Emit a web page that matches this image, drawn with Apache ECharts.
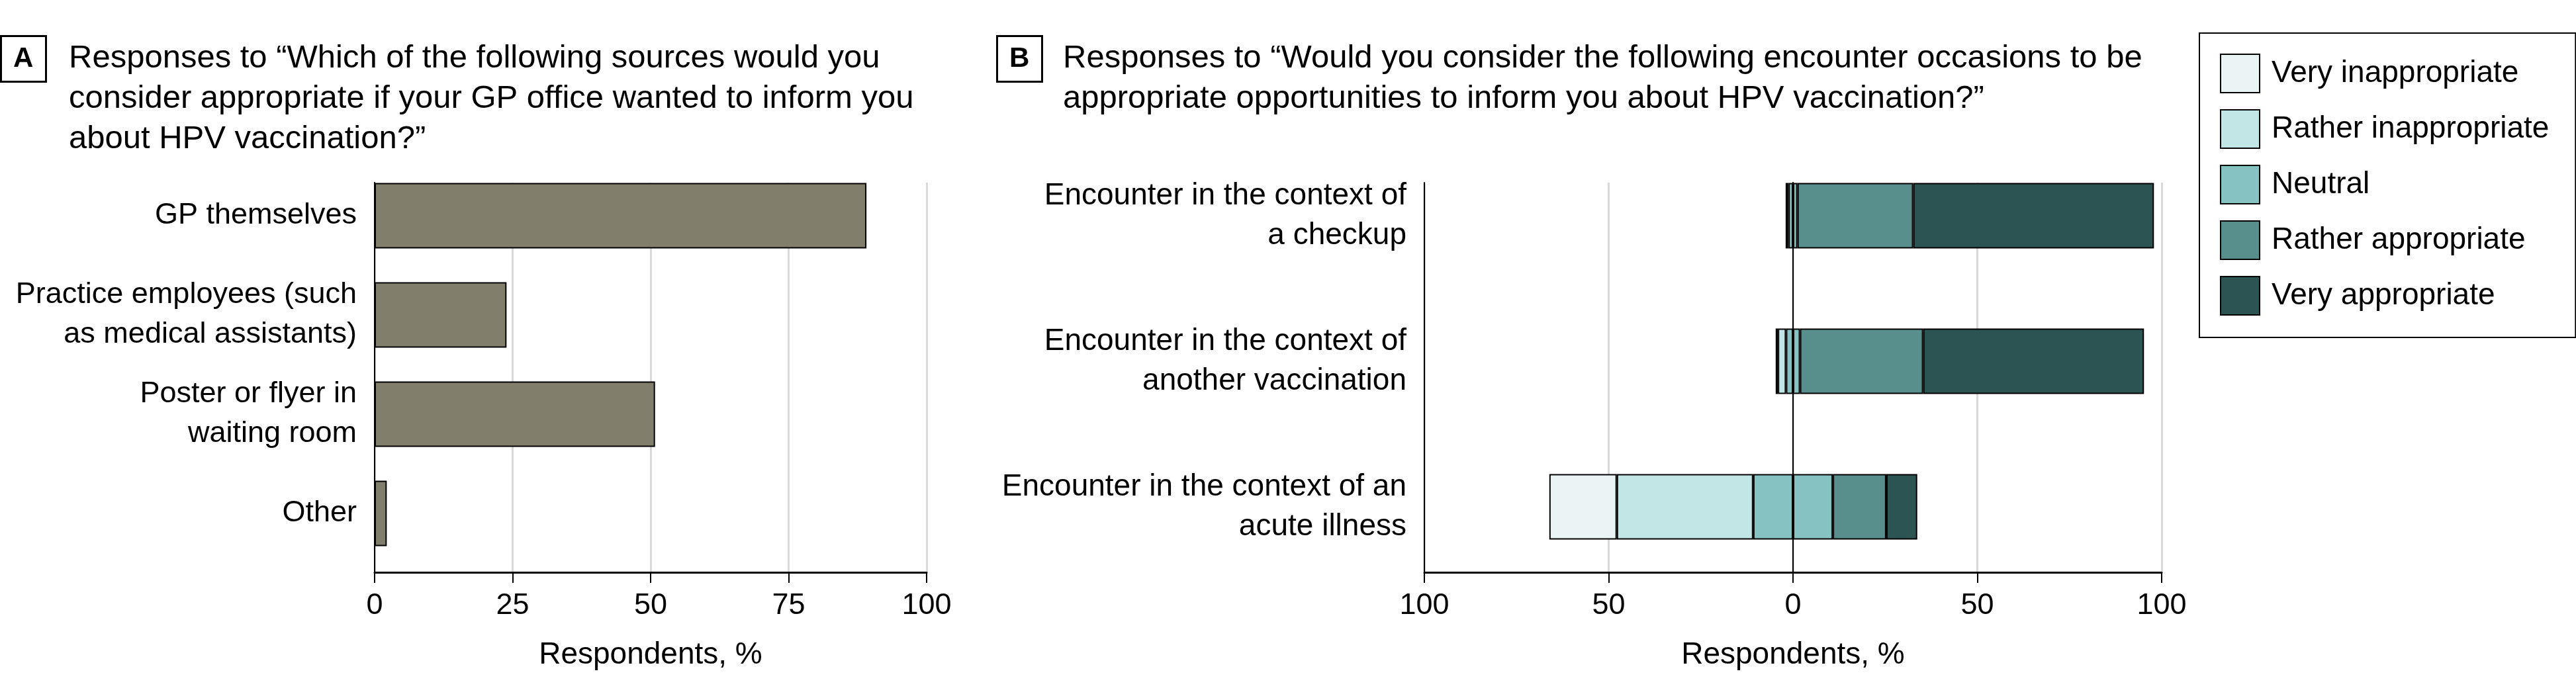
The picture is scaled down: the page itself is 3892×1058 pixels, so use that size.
<!DOCTYPE html>
<html>
<head>
    <meta charset="utf-8">
    <title>HPV vaccination information</title>
    <script src="https://cdn.jsdelivr.net/npm/echarts@6/dist/echarts.min.js"></script>
    <style>
        html, body { margin: 0; padding: 0; background: #fff; }
        #chart { width: 3892px; height: 1058px; }
    </style>
</head>
<body>
<div id="chart"></div>
<script>
    // panel A - information sources
    var sourceLabels = [
        'GP themselves',
        'Practice employees (such\nas medical assistants)',
        'Poster or flyer in\nwaiting room',
        'Other'
    ];
    var sourceValues = [89.1, 23.9, 50.8, 2.2];

    // panel B - encounter occasions
    var occasionLabels = [
        'Encounter in the context of\na checkup',
        'Encounter in the context of\nanother vaccination',
        'Encounter in the context of an\nacute illness'
    ];
    var veryInappropriate = [0.4, 0.6, 18.3];
    var ratherInappropriate = [0.4, 2.2, 37.0];
    var neutral = [2.4, 3.8, 21.6];
    var ratherAppropriate = [31.4, 33.4, 14.5];
    var veryAppropriate = [65.3, 59.9, 8.4];

    var levelNames = ['Very inappropriate', 'Rather inappropriate', 'Neutral', 'Rather appropriate', 'Very appropriate'];
    var levelColors = ['#eaf4f4', '#c1e6e5', '#86c2c1', '#588e8b', '#2b5453'];

    var FONT = 'Liberation Sans';
    var W = 3892;

    var chart = echarts.init(document.getElementById('chart'));

    function neg(arr) { return arr.map(function (v) { return -v; }); }
    function half(arr, sign) { return arr.map(function (v) { return sign * v / 2; }); }

    function axesX(gridIndex, min, max, interval, fmt) {
        return {
            gridIndex: gridIndex, type: 'value', min: min, max: max, interval: interval,
            axisLine: { show: true, onZero: false, lineStyle: { color: '#000', width: 3 } },
            axisTick: { show: true, length: 16, lineStyle: { color: '#000', width: 2 } },
            axisLabel: { fontFamily: FONT, fontSize: 45, color: '#000', margin: 28, formatter: fmt },
            splitLine: { show: true, lineStyle: { color: '#d9d9d9', width: 3 } },
            name: 'Respondents, %', nameLocation: 'middle', nameGap: 102,
            nameTextStyle: { fontFamily: FONT, fontSize: 46, color: '#000' }
        };
    }

    function hiddenX(gridIndex, min, max) {
        return { gridIndex: gridIndex, type: 'value', min: min, max: max, show: false, splitLine: { show: false } };
    }

    function labelY(gridIndex, data, size) {
        return {
            gridIndex: gridIndex, type: 'category', inverse: true, data: data,
            axisLine: { show: false }, axisTick: { show: false },
            axisLabel: { fontFamily: FONT, fontSize: size, color: '#000', margin: 27, lineHeight: 60, align: 'right' }
        };
    }

    function lineY(gridIndex, data, onZero) {
        return {
            gridIndex: gridIndex, type: 'category', data: data, z: 1, position: 'left',
            axisLine: { show: true, onZero: onZero, lineStyle: { color: '#000', width: 2 } },
            axisTick: { show: false }, axisLabel: { show: false }, splitLine: { show: false }
        };
    }

    var barBorder = { borderColor: '#000', borderWidth: 2 };

    function stackSeries(name, data, colorIdx) {
        return {
            name: name, type: 'bar', stack: 'occasion', xAxisIndex: 2, yAxisIndex: 2,
            barWidth: 99, data: data, z: 2,
            itemStyle: Object.assign({ color: levelColors[colorIdx] }, barBorder)
        };
    }

    var titleText = { fontFamily: FONT, fontSize: 49, color: '#000', lineHeight: 61, fontWeight: 'normal' };
    var letterText = { fontFamily: FONT, fontSize: 42, color: '#000', lineHeight: 42, fontWeight: 'bold' };

    var option = {
        backgroundColor: '#fff',
        animation: false,
        title: [
            { text: 'A', left: 1, top: 54, padding: [14, 19, 14, 19], borderColor: '#000', borderWidth: 3, textStyle: letterText },
            { text: 'Responses to \u201cWhich of the following sources would you\nconsider appropriate if your GP office wanted to inform you\nabout HPV vaccination?\u201d',
              left: 104, top: 58, padding: 0, textStyle: titleText },
            { text: 'B', left: 1506, top: 54, padding: [14, 19, 14, 19], borderColor: '#000', borderWidth: 3, textStyle: letterText },
            { text: 'Responses to \u201cWould you consider the following encounter occasions to be\nappropriate opportunities to inform you about HPV vaccination?\u201d',
              left: 1606, top: 58, padding: 0, textStyle: titleText }
        ],
        legend: {
            orient: 'vertical', left: 3323, top: 50,
            padding: [31, 40, 33, 31],
            borderColor: '#000', borderWidth: 2,
            itemWidth: 59, itemHeight: 58, itemGap: 24,
            icon: 'rect', selectedMode: false,
            data: levelNames,
            textStyle: { fontFamily: FONT, fontSize: 46, color: '#000', padding: [0, 0, 0, 13] }
        },
        grid: [
            { left: 566, right: W - 1400, top: 251, height: 600 },
            { left: 566, right: W - 1400, top: 276, height: 589 },
            { left: 2152, right: W - 3266, top: 216, height: 660 },
            { left: 2152, right: W - 3266, top: 276, height: 589 }
        ],
        xAxis: [
            hiddenX(0, 0, 100),
            axesX(1, 0, 100, 25),
            hiddenX(2, -100, 100),
            axesX(3, -100, 100, 50, function (v) { return Math.abs(v); })
        ],
        yAxis: [
            labelY(0, sourceLabels, 45),
            lineY(1, sourceLabels, false),
            labelY(2, occasionLabels, 46),
            lineY(3, occasionLabels, true),
            lineY(3, occasionLabels, false)
        ],
        series: [
            {
                name: 'Sources', type: 'bar', xAxisIndex: 0, yAxisIndex: 0,
                barWidth: 99, data: sourceValues, z: 2,
                itemStyle: Object.assign({ color: '#817f6b' }, barBorder)
            },
            stackSeries('Neutral', half(neutral, -1), 2),
            stackSeries('Rather inappropriate', neg(ratherInappropriate), 1),
            stackSeries('Very inappropriate', neg(veryInappropriate), 0),
            stackSeries('Neutral', half(neutral, 1), 2),
            stackSeries('Rather appropriate', ratherAppropriate, 3),
            stackSeries('Very appropriate', veryAppropriate, 4)
        ]
    };
    chart.setOption(option);
</script>
</body>
</html>
